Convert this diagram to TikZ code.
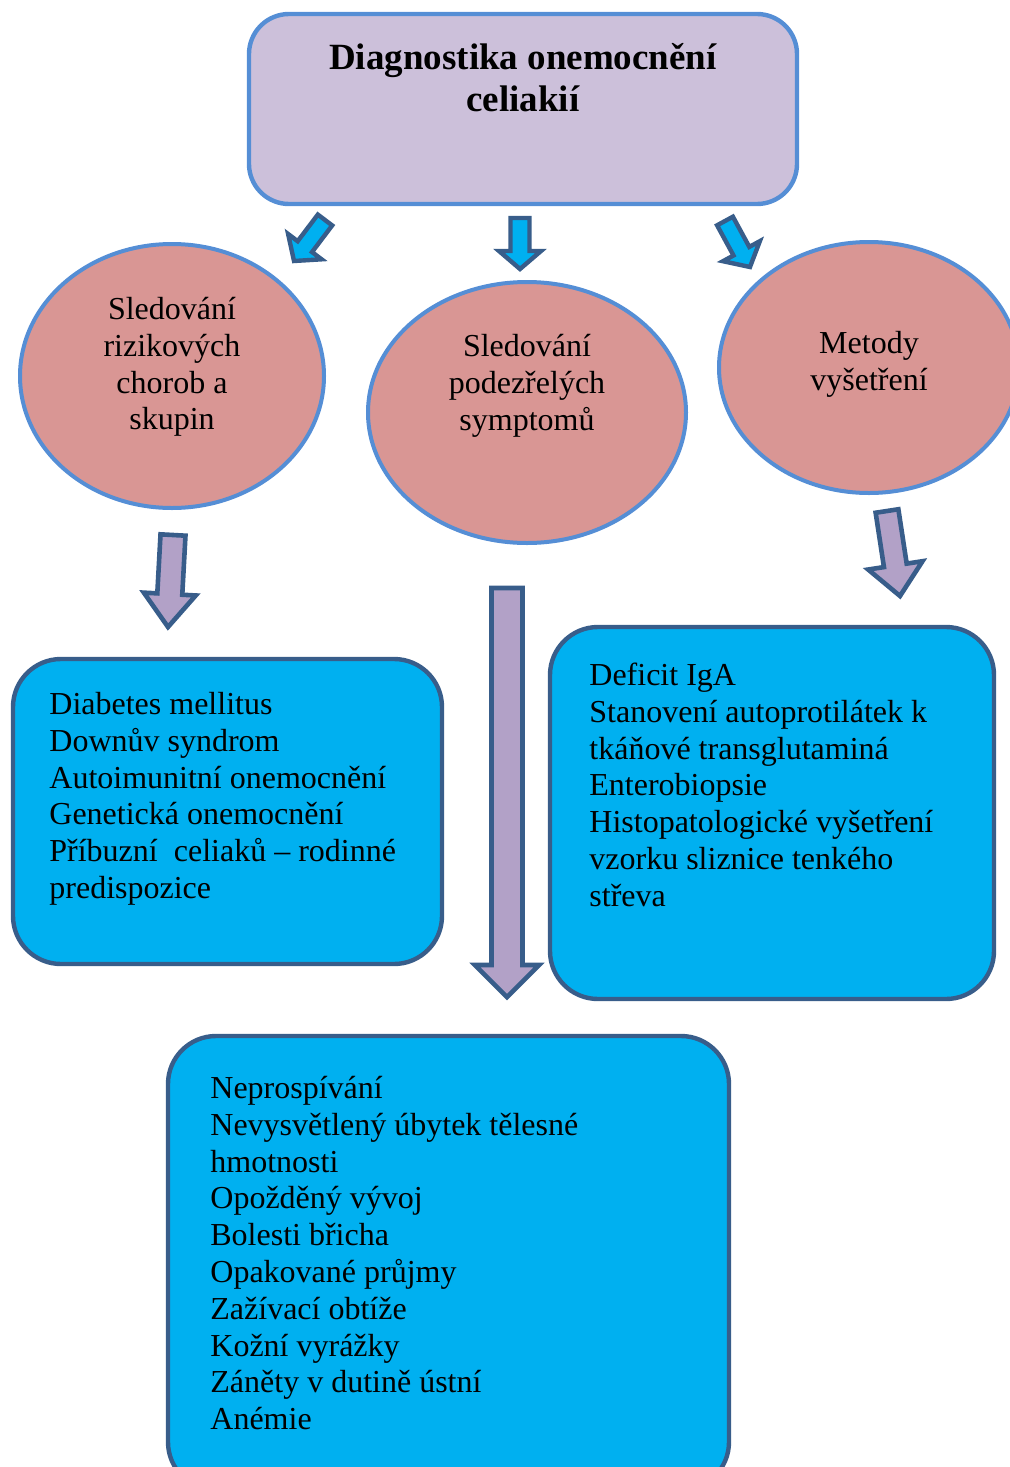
\documentclass[tikz,border=0pt]{standalone}
\usepackage{fontspec}
\setmainfont{Liberation Serif}
\usetikzlibrary{calc,shapes.geometric}

\definecolor{titlefill}{RGB}{204,192,218}
\definecolor{lightedge}{RGB}{85,142,213}
\definecolor{ovalfill}{RGB}{217,150,148}
\definecolor{cyanfill}{RGB}{0,176,240}
\definecolor{darkedge}{RGB}{56,93,138}
\definecolor{lilacfill}{RGB}{178,161,199}

\tikzset{
  titlebox/.style={draw=lightedge, fill=titlefill, line width=2.2pt, rounded corners=20pt, inner sep=0pt},
  oval/.style={ellipse, draw=lightedge, fill=ovalfill, line width=2pt, inner sep=0pt},
  listbox/.style={draw=darkedge, fill=cyanfill, line width=2.2pt, rounded corners=24pt, inner sep=0pt},
  bodytext/.style={font=\fontsize{16pt}{18.4pt}\selectfont, inner sep=0pt},
  listtext/.style={bodytext, align=left, anchor=north west},
  ovaltext/.style={bodytext, align=center},
  headtext/.style={font=\fontsize{18.5pt}{21pt}\selectfont\bfseries, align=center, inner sep=0pt},
  cyanarrow/.style={draw=darkedge, fill=cyanfill, line width=2.2pt, line join=miter},
  lilacarrow/.style={draw=darkedge, fill=lilacfill, line width=2.3pt, line join=miter},
}

% block arrow: style, tail, tip, half shaft width, half head width, head length
\newcommand\blockarrow[6]{%
  \coordinate (neck) at ($(#3)!#6!(#2)$);
  \draw[#1] ($(#2)!#4!90:(#3)$) -- ($(neck)!#4!-90:(#2)$) -- ($(neck)!#5!-90:(#2)$)
    -- (#3) -- ($(neck)!#5!90:(#2)$) -- ($(neck)!#4!90:(#2)$) -- ($(#2)!#4!-90:(#3)$) -- cycle;}

\begin{document}
\begin{tikzpicture}[x=0.5pt, y=-0.5pt]
  \useasboundingbox (0,0) rectangle (1010,1467);
  \clip (0,0) rectangle (1010,1467);

  % heading box
  \node[titlebox, minimum width=274pt, minimum height=95pt] (top) at (523,109) {};
  \node[headtext] (toptext) at (523,78) {Diagnostika onemocnění\\celiakií};

  % three ovals
  \node[oval, minimum width=152pt, minimum height=132pt] (e1) at (172,376) {};
  \node[oval, minimum width=159pt, minimum height=130.5pt] (e2) at (527,412.5) {};
  \node[oval, minimum width=150pt, minimum height=125.5pt] (e3) at (869,367.5) {};
  \node[ovaltext] (e1text) at (172,367) {Sledování\\rizikových\\chorob a\\skupin};
  \node[ovaltext] (e2text) at (527,386) {Sledování\\podezřelých\\symptomů};
  \node[ovaltext] (e3text) at (869,364) {Metody\\vyšetření};

  % cyan arrows from the heading to the ovals
  \coordinate (c1s) at (325,220); \coordinate (c1e) at (294,261);
  \coordinate (c2s) at (520,218); \coordinate (c2e) at (520,269);
  \coordinate (c3s) at (725,221); \coordinate (c3e) at (750,267);
  \blockarrow{cyanarrow}{c1s}{c1e}{4.5pt}{10.5pt}{9pt}
  \blockarrow{cyanarrow}{c2s}{c2e}{4.75pt}{10.5pt}{9pt}
  \blockarrow{cyanarrow}{c3s}{c3e}{4.5pt}{10.5pt}{9pt}

  % lists
  \node[listbox, minimum width=214.5pt, minimum height=152.5pt] (b1) at (227.5,811.5) {};
  \node[listbox, minimum width=222pt, minimum height=186pt] (b2) at (772,813) {};
  \node[listbox, minimum width=280.5pt, minimum height=227pt] (b3) at (448.5,1263) {};

  \node[listtext] (b1text) at (49,690) {\rule{0pt}{12pt}Diabetes mellitus\\Downův syndrom\\Autoimunitní onemocnění\\Genetická onemocnění\\Příbuzní\ \ celiaků – rodinné\\predispozice};
  \node[listtext] (b2text) at (589,661) {\rule{0pt}{12pt}Deficit IgA\\Stanovení autoprotilátek k\\tkáňové transglutaminá\\Enterobiopsie\\Histopatologické vyšetření\\vzorku sliznice tenkého\\střeva};
  \node[listtext] (b3text) at (210,1074) {\rule{0pt}{12pt}Neprospívání\\Nevysvětlený úbytek tělesné\\hmotnosti\\Opožděný vývoj\\Bolesti břicha\\Opakované průjmy\\Zažívací obtíže\\Kožní vyrážky\\Záněty v dutině ústní\\Anémie};

  % lilac arrows from the ovals to the lists
  \coordinate (p1s) at (173,535); \coordinate (p1e) at (168,627);
  \coordinate (p2s) at (507,588); \coordinate (p2e) at (507,997);
  \coordinate (p3s) at (887,511); \coordinate (p3e) at (900,596);
  \blockarrow{lilacarrow}{p1s}{p1e}{6.25pt}{13pt}{16.5pt}
  \blockarrow{lilacarrow}{p2s}{p2e}{7.75pt}{16pt}{16pt}
  \blockarrow{lilacarrow}{p3s}{p3e}{5.75pt}{13.75pt}{15.5pt}
\end{tikzpicture}
\end{document}
